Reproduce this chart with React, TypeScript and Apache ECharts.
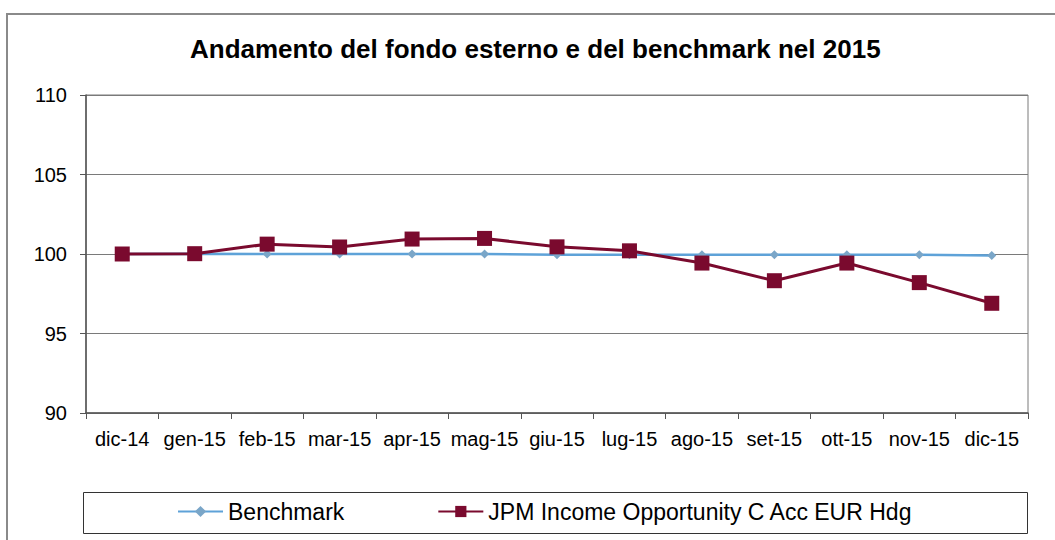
import React, { useEffect, useRef } from "react";
import * as echarts from "echarts";

const categories = ["dic-14", "gen-15", "feb-15", "mar-15", "apr-15", "mag-15", "giu-15", "lug-15", "ago-15", "set-15", "ott-15", "nov-15", "dic-15"];
const benchmarkValues = [100, 100.02, 100.0, 100.0, 100.0, 100.0, 99.96, 99.95, 99.95, 99.95, 99.95, 99.95, 99.9];
const fundValues = [100, 100.02, 100.62, 100.44, 100.94, 100.98, 100.45, 100.2, 99.43, 98.32, 99.43, 98.2, 96.9];
const yTicks = { min: 90, max: 110, interval: 5 };
const titleText = "Andamento del fondo esterno e del benchmark nel 2015";
const seriesNames = ["Benchmark", "JPM Income Opportunity C Acc EUR Hdg"];

const FONT = "'Liberation Sans', Arial, sans-serif";

export default function App() {
  const ref = useRef<HTMLDivElement>(null);
  useEffect(() => {
    if (!ref.current) return;
    const chart = echarts.init(ref.current, undefined, { renderer: "svg" });
    chart.setOption({
      animation: false,
      backgroundColor: "#ffffff",
      title: {
        text: titleText,
        left: 190,
        top: 36,
        padding: 0,
        textStyle: { fontFamily: FONT, fontSize: 26, fontWeight: "bold", color: "#000" },
      },
      graphic: [
        {
          type: "rect",
          shape: { x: 7, y: 14, width: 1100, height: 600 },
          style: { fill: "none", stroke: "#8a8a8a", lineWidth: 2 },
          silent: true,
          z: -1,
        },
        {
          type: "rect",
          shape: { x: 83.5, y: 492.5, width: 944, height: 41 },
          style: { fill: "none", stroke: "#333", lineWidth: 1 },
          silent: true,
        },
      ],
      legend: {
        left: 177,
        top: 500,
        padding: 0,
        itemGap: 93,
        itemWidth: 45,
        itemHeight: 14,
        textStyle: { fontFamily: FONT, fontSize: 23, color: "#000" },
        data: seriesNames,
      },
      grid: {
        left: 86,
        right: 27,
        top: 95,
        bottom: 127,
        show: true,
        borderColor: "#7a7a7a",
        borderWidth: 1,
      },
      xAxis: {
        type: "category",
        data: categories,
        boundaryGap: true,
        axisLine: { show: true, lineStyle: { color: "#555", width: 1.5 } },
        axisTick: { show: true, length: 6, lineStyle: { color: "#555" } },
        axisLabel: { fontFamily: FONT, fontSize: 20, color: "#000", margin: 16, interval: 0 },
        splitLine: { show: false },
      },
      yAxis: {
        type: "value",
        min: yTicks.min,
        max: yTicks.max,
        interval: yTicks.interval,
        axisLine: { show: true, lineStyle: { color: "#555", width: 1.5 } },
        axisTick: { show: true, length: 6, lineStyle: { color: "#555" } },
        axisLabel: { fontFamily: FONT, fontSize: 20, color: "#000", margin: 19 },
        splitLine: { show: true, lineStyle: { color: "#7a7a7a", width: 1 } },
      },
      series: [
        {
          name: seriesNames[0],
          type: "line",
          data: benchmarkValues,
          symbol: "diamond",
          symbolSize: 9,
          lineStyle: { color: "#5ea2d8", width: 2.5 },
          itemStyle: { color: "#7aa6c8" },
          z: 2,
        },
        {
          name: seriesNames[1],
          type: "line",
          data: fundValues,
          symbol: "rect",
          symbolSize: 15,
          lineStyle: { color: "#7a0a2e", width: 3 },
          itemStyle: { color: "#7a0a2e" },
          z: 3,
        },
      ],
    });
    return () => chart.dispose();
  }, []);
  return <div ref={ref} style={{ position: "fixed", left: 0, top: 0, width: 1055, height: 540 }} />;
}
